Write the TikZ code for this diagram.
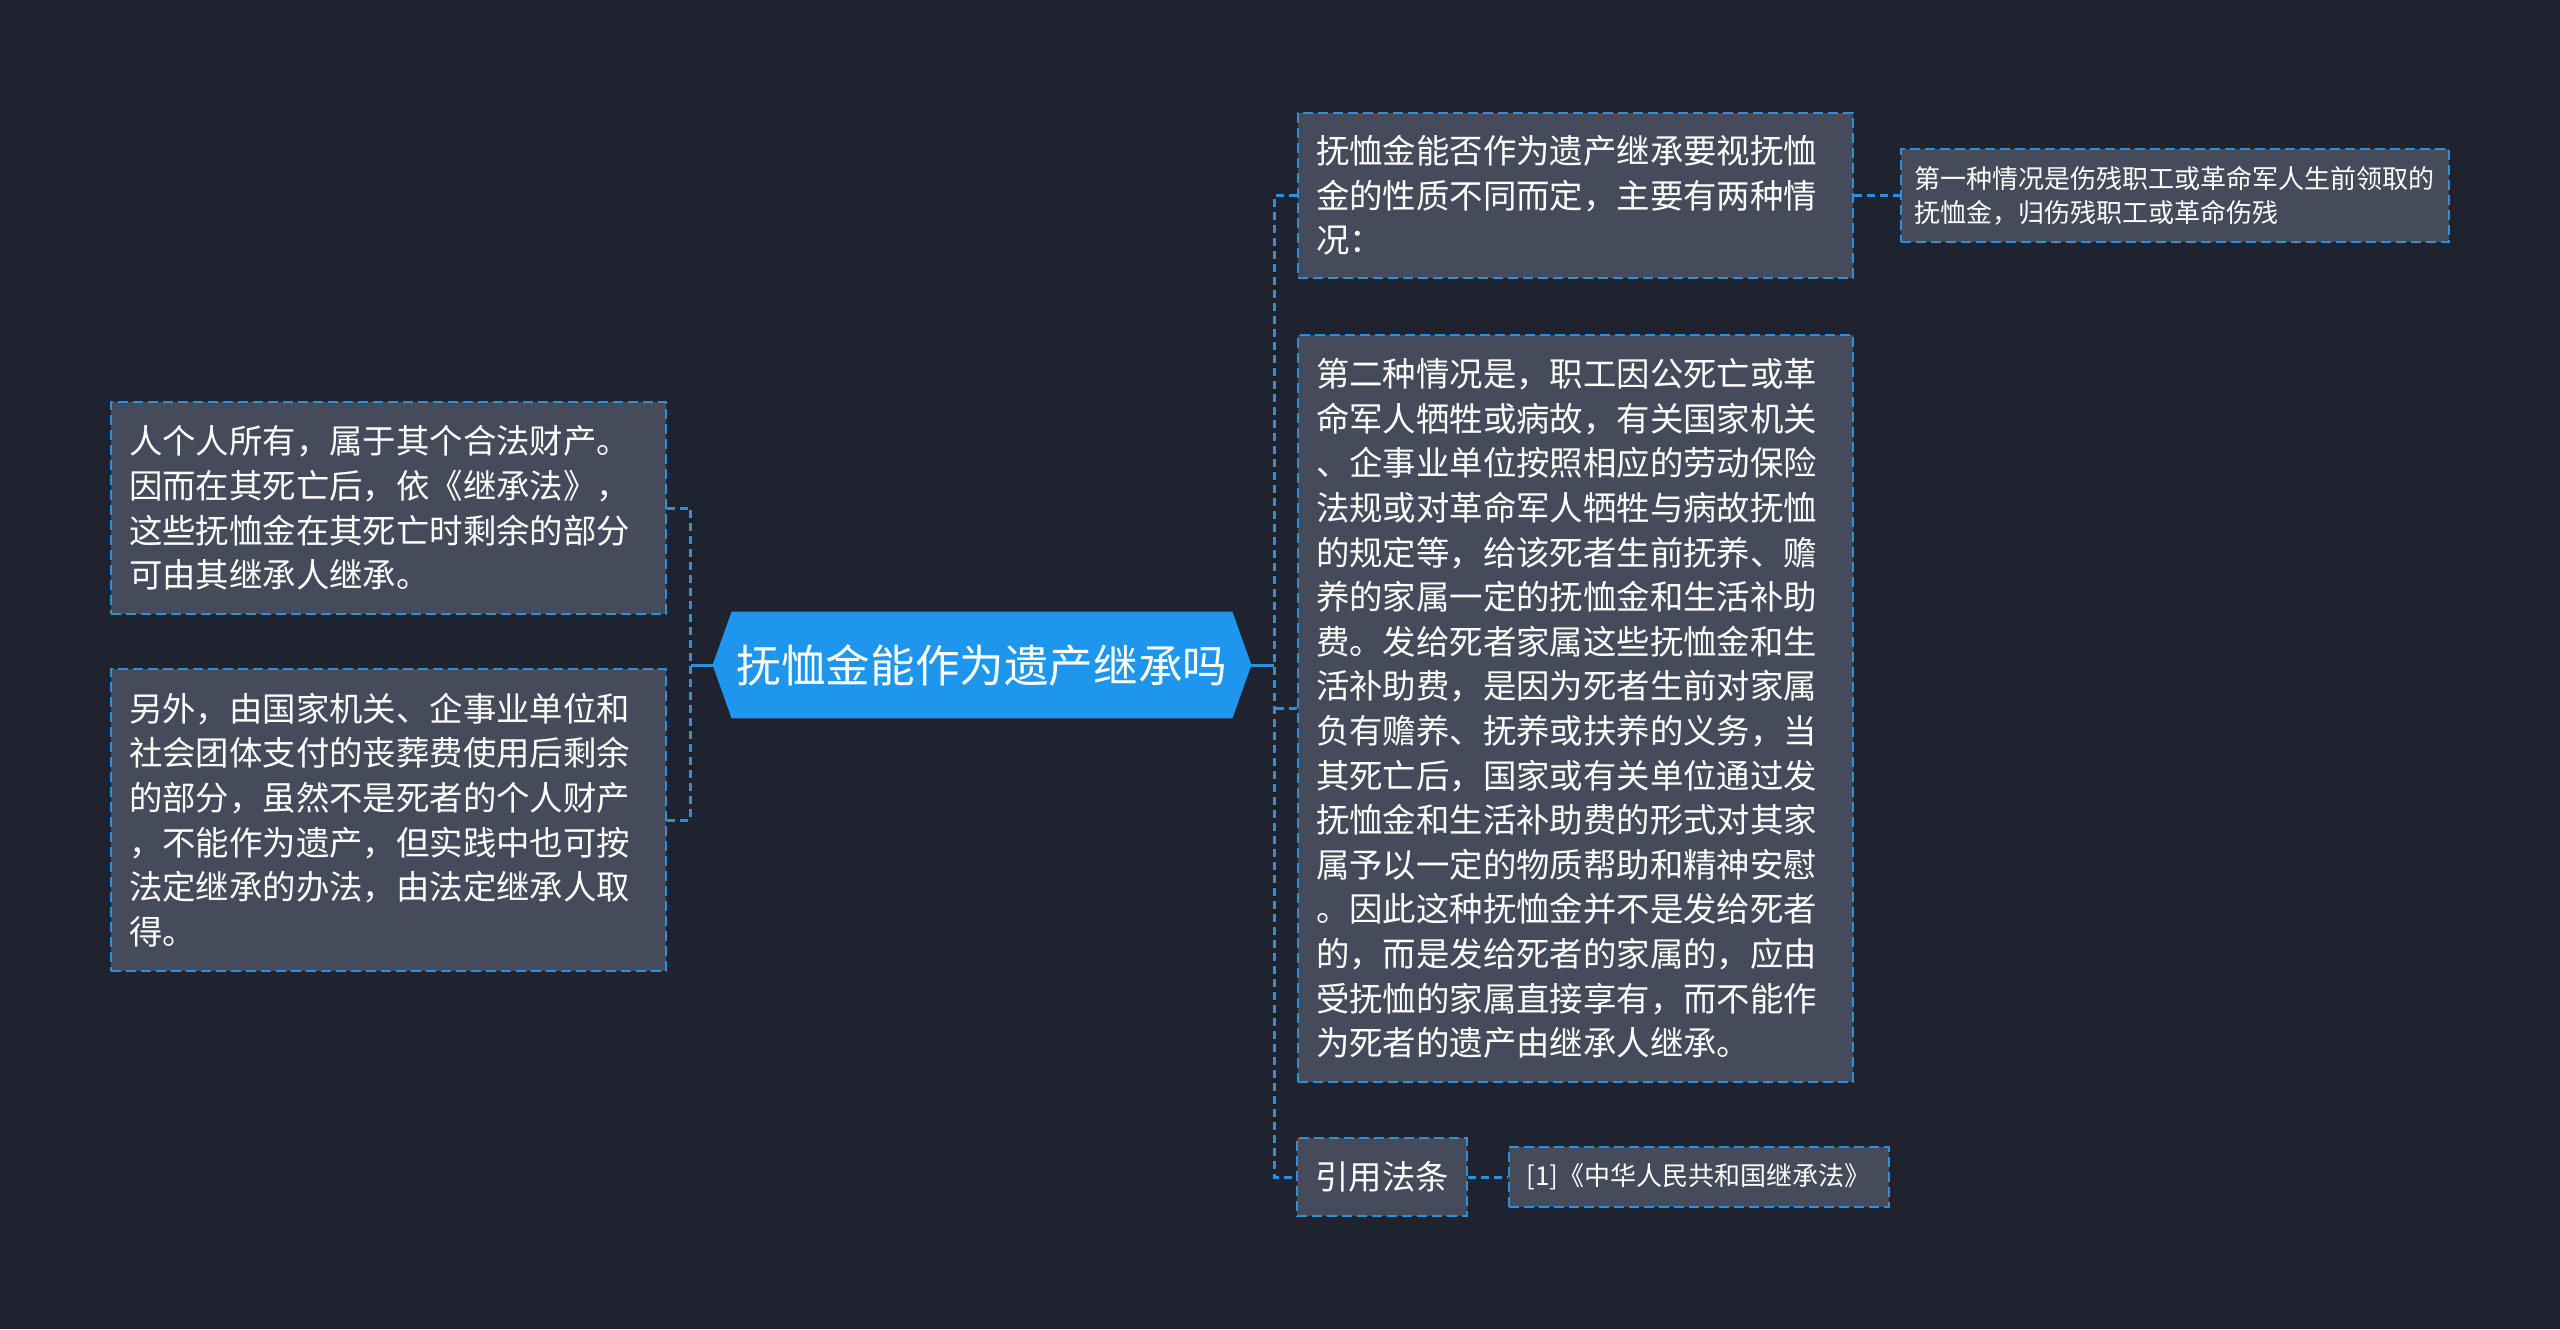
\documentclass[tikz,border=0pt]{standalone}
\usepackage{fontspec}
\usepackage{tikz}
\usetikzlibrary{calc,backgrounds}
\newfontfamily\cjk{Noto Sans CJK SC}
\definecolor{MapNavy}{HTML}{1F2330}
\definecolor{MapSky}{HTML}{1E96EE}
\definecolor{MapSlate}{HTML}{454B5A}
\definecolor{MapLink}{HTML}{2E8FDD}
\tikzset{
  leaf/.style={draw=MapLink,fill=MapSlate,line width=1pt,dash pattern=on 5pt off 2.5pt,
    text=white,inner xsep=9pt,inner ysep=0pt,align=left},
  leafbody/.style={leaf,font=\cjk\fontsize{16.7}{22.3}\selectfont,text width=259.5pt},
  leafsmall/.style={leaf,font=\cjk\fontsize{13}{17}\selectfont},
  link/.style={MapLink,line width=1.5pt,dash pattern=on 4pt off 2.5pt},
  stem/.style={MapLink,line width=1.5pt}
}

\begin{document}
\begin{tikzpicture}[x=0.5pt,y=-0.5pt,font=\cjk]
  \useasboundingbox (0,0) rectangle (2560,1329);
  \node[minimum width=269pt,minimum height=53pt,inner sep=0pt,text=white,
    font=\cjk\fontsize{22.3}{26}\selectfont] (root) at (982,665) {抚恤金能作为遗产继承吗};
  \begin{scope}[on background layer]
    \fill[MapNavy] (0,0) rectangle (2560,1329);
    \fill[MapSky] (root.west) -- ($(root.north west)+(19,0)$) -- ($(root.north east)+(-19,0)$)
      -- (root.east) -- ($(root.south east)+(-19,0)$) -- ($(root.south west)+(19,0)$) -- cycle;
  \end{scope}

  \node[leafbody,minimum height=106pt] (inherit) at (388.5,508)
    {人个人所有，属于其个合法财产。\\因而在其死亡后，依《继承法》，\\这些抚恤金在其死亡时剩余的部分\\可由其继承人继承。};
  \node[leafbody,minimum height=151pt] (funeral) at (388.5,820)
    {另外，由国家机关、企事业单位和\\社会团体支付的丧葬费使用后剩余\\的部分，虽然不是死者的个人财产\\，不能作为遗产，但实践中也可按\\法定继承的办法，由法定继承人取\\得。};

  \node[leafbody,minimum height=82.5pt] (split) at (1575.5,195.5)
    {抚恤金能否作为遗产继承要视抚恤\\金的性质不同而定，主要有两种情\\况：};
  \node[leafsmall,text width=260pt,inner xsep=7pt,minimum height=46.5pt] (first) at (2174.5,195.5)
    {第一种情况是伤残职工或革命军人生前领取的\\抚恤金，归伤残职工或革命伤残};
  \node[leafbody,minimum height=373.5pt] (second) at (1575.5,708.5)
    {第二种情况是，职工因公死亡或革\\命军人牺牲或病故，有关国家机关\\、企事业单位按照相应的劳动保险\\法规或对革命军人牺牲与病故抚恤\\的规定等，给该死者生前抚养、赡\\养的家属一定的抚恤金和生活补助\\费。发给死者家属这些抚恤金和生\\活补助费，是因为死者生前对家属\\负有赡养、抚养或扶养的义务，当\\其死亡后，国家或有关单位通过发\\抚恤金和生活补助费的形式对其家\\属予以一定的物质帮助和精神安慰\\。因此这种抚恤金并不是发给死者\\的，而是发给死者的家属的，应由\\受抚恤的家属直接享有，而不能作\\为死者的遗产由继承人继承。};
  \node[leaf,align=center,font=\cjk\fontsize{16.7}{22.3}\selectfont,minimum width=84.5pt,
    minimum height=39pt] (refs) at (1382,1177) {引用法条};
  \node[leafsmall,align=center,minimum width=184pt,minimum height=30pt] (cite) at (1698.5,1177)
    {[1]《中华人民共和国继承法》};

  \coordinate (lhub) at ($(root.west)+(-22,0)$);
  \coordinate (rhub) at ($(root.east)+(23,0)$);
  \draw[stem] (root.west) -- (lhub);
  \draw[link] (inherit.east) -- (inherit.east -| lhub) -- (funeral.east -| lhub) -- (funeral.east);
  \draw[stem] (root.east) -- (rhub);
  \draw[link] (split.west) -- (split.west -| rhub) -- (refs.west -| rhub) -- (refs.west);
  \draw[link] (second.west) -- (second.west -| rhub);
  \draw[link] (split.east) -- (first.west);
  \draw[link] (refs.east) -- (cite.west);
\end{tikzpicture}
\end{document}
